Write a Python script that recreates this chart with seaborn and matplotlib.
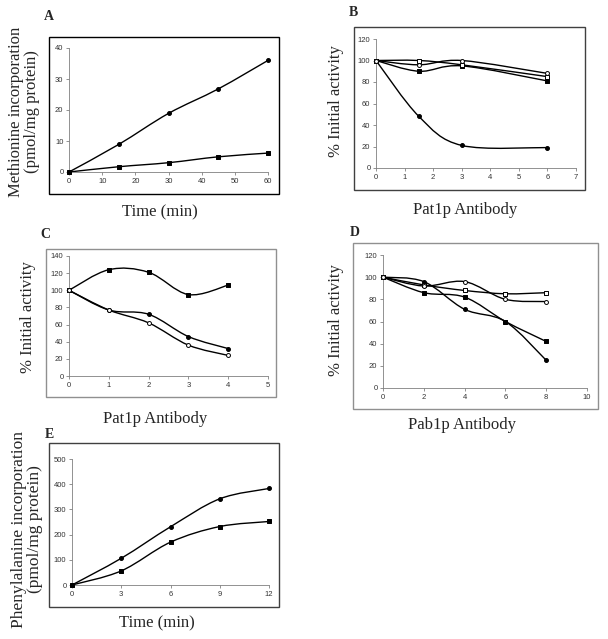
"""
plot.py
 Five-panel figure: amino acid incorporation over time and
 % initial activity after adding Pat1p / Pab1p antibody.
"""

import numpy as np
import matplotlib
matplotlib.use("Agg")
import matplotlib.pyplot as plt
from matplotlib.path import Path
from matplotlib.patches import PathPatch, Rectangle
import seaborn as sns

# Panel A: methionine incorporation (pmol/mg protein)
a_time = [0, 15, 30, 45, 60]
a_circle = [0, 8.9, 18.9, 26.8, 36.0]
a_square = [0, 1.7, 3.0, 4.9, 6.1]

# Panel B: % initial activity vs Pat1p antibody
b_dose = [0, 1.5, 3, 6]
b_filled_circle = [100, 48, 21, 19]
b_filled_square = [100, 90, 95, 81]
b_open_square = [100, 100, 96, 85]
b_open_circle = [100, 96, 100, 88]

# Panel C: % initial activity vs Pat1p antibody
c_dose = [0, 1, 2, 3, 4]
c_filled_square = [100, 124, 121, 95, 106]
c_filled_circle = [100, 77, 72, 46, 32]
c_open_circle = [100, 77, 62, 36, 24]

# Panel D: % initial activity vs Pab1p antibody
d_dose = [0, 2, 4, 6, 8]
d_filled_circle = [100, 96, 71, 60, 25]
d_filled_square = [100, 86, 82, 60, 42]
d_open_square = [100, 93, 88, 85, 86]
d_open_circle = [100, 92, 96, 80, 78]

# Panel E: phenylalanine incorporation (pmol/mg protein)
e_time = [0, 3, 6, 9, 12]
e_circle = [0, 106, 231, 342, 383]
e_square = [0, 56, 170, 232, 252]

W, H = 608, 639
sns.set_style("ticks")
plt.rcParams['font.family'] = ['Liberation Sans', 'DejaVu Sans']

fig = plt.figure(figsize=(W / 100, H / 100), dpi=100)
fig.patch.set_facecolor('white')

SERIF = ['Liberation Serif', 'DejaVu Serif']


def fx(px):
    return px / W


def fy(py):
    return 1 - py / H


def smooth_line(ax, x, y):
    # Excel-style smoothed line: Catmull-Rom segments as cubic Beziers
    pts = np.column_stack([x, y]).astype(float)
    n = len(pts)
    verts = [pts[0]]
    codes = [Path.MOVETO]
    for i in range(n - 1):
        p0 = pts[i - 1] if i > 0 else pts[i]
        p1 = pts[i]
        p2 = pts[i + 1]
        p3 = pts[i + 2] if i + 2 < n else pts[i + 1]
        c1 = p1 + (p2 - p0) / 6
        c2 = p2 - (p3 - p1) / 6
        verts += [c1, c2, p2]
        codes += [Path.CURVE4] * 3
    ax.add_patch(PathPatch(Path(verts, codes), fill=False, lw=1.0,
                           edgecolor='black', clip_on=False, zorder=2))


def markers(ax, x, y, shape, filled):
    sns.scatterplot(x=x, y=y, marker=shape, s=8, ax=ax,
                    color='black' if filled else 'white',
                    edgecolor='black', linewidth=0.7,
                    clip_on=False, zorder=3, legend=False)


def panel(box, frame, frame_color, letter, letter_xy, xticks, yticks,
          xlabel, xlabel_xy, ylabel, ylabel_xy, ylabel_size=12):
    left, top, right, bottom = box
    ax = fig.add_axes([fx(left), fy(bottom), fx(right - left),
                       (bottom - top) / H])
    fl, ft, fr, fb = frame
    fig.add_artist(Rectangle((fx(fl), fy(fb)), fx(fr - fl), (fb - ft) / H,
                             transform=fig.transFigure, fill=False,
                             edgecolor=frame_color, lw=1.0))
    ax.set_xlim(xticks[0], xticks[-1])
    ax.set_ylim(yticks[0], yticks[-1])
    ax.set_xticks(xticks)
    ax.set_yticks(yticks)
    ax.set_facecolor('none')
    for side in ['top', 'right']:
        ax.spines[side].set_visible(False)
    for side in ['left', 'bottom']:
        ax.spines[side].set_color('#808080')
        ax.spines[side].set_linewidth(0.6)
    ax.tick_params(direction='out', length=2, width=0.6, color='#808080',
                   labelsize=5.5, labelcolor='#333333', pad=2)
    ax.set_xlabel('')
    ax.set_ylabel('')
    fig.text(fx(letter_xy[0]), fy(letter_xy[1]), letter, family=SERIF,
             fontsize=10, fontweight='bold', ha='left', va='center')
    fig.text(fx(xlabel_xy[0]), fy(xlabel_xy[1]), xlabel, family=SERIF,
             fontsize=12, ha='center', va='center')
    fig.text(fx(ylabel_xy[0]), fy(ylabel_xy[1]), ylabel, family=SERIF,
             fontsize=ylabel_size, ha='center', va='center', rotation=90,
             linespacing=1.05, multialignment='center')
    return ax


# A
ax = panel((69, 48, 268, 172), (49, 37, 279, 194), 'black', 'A', (44, 16),
           [0, 10, 20, 30, 40, 50, 60], [0, 10, 20, 30, 40],
           'Time (min)', (160, 212),
           'Methionine incorporation\n(pmol/mg protein)', (24, 112))
smooth_line(ax, a_time, a_circle)
smooth_line(ax, a_time, a_square)
markers(ax, a_time, a_circle, 'o', True)
markers(ax, a_time, a_square, 's', True)

# B
ax = panel((376, 39, 576, 168), (354, 27, 585, 190), '#404040', 'B', (349, 12),
           [0, 1, 2, 3, 4, 5, 6, 7], [0, 20, 40, 60, 80, 100, 120],
           'Pat1p Antibody', (465, 210),
           '% Initial activity', (336, 101))
b_series = [(b_filled_circle, 'o', True), (b_filled_square, 's', True),
            (b_open_square, 's', False), (b_open_circle, 'o', False)]
for series, shape, filled in b_series:
    smooth_line(ax, b_dose, series)
for series, shape, filled in b_series:
    markers(ax, b_dose, series, shape, filled)

# C
ax = panel((69, 256, 268, 376), (46, 249, 276, 397), '#909090', 'C', (40, 234),
           [0, 1, 2, 3, 4, 5], [0, 20, 40, 60, 80, 100, 120, 140],
           'Pat1p Antibody', (155, 419),
           '% Initial activity', (28, 317))
c_series = [(c_filled_square, 's', True), (c_filled_circle, 'o', True),
            (c_open_circle, 'o', False)]
for series, shape, filled in c_series:
    smooth_line(ax, c_dose, series)
for series, shape, filled in c_series:
    markers(ax, c_dose, series, shape, filled)

# D
ax = panel((383, 255, 587, 388), (353, 243, 598, 409), '#909090', 'D', (350, 232),
           [0, 2, 4, 6, 8, 10], [0, 20, 40, 60, 80, 100, 120],
           'Pab1p Antibody', (462, 425),
           '% Initial activity', (336, 320))
d_series = [(d_filled_circle, 'o', True), (d_filled_square, 's', True),
            (d_open_square, 's', False), (d_open_circle, 'o', False)]
for series, shape, filled in d_series:
    smooth_line(ax, d_dose, series)
for series, shape, filled in d_series:
    markers(ax, d_dose, series, shape, filled)

# E
ax = panel((72, 459, 269, 585), (49, 443, 279, 607), '#404040', 'E', (45, 435),
           [0, 3, 6, 9, 12], [0, 100, 200, 300, 400, 500],
           'Time (min)', (157, 623),
           'Phenylalanine incorporation\n(pmol/mg protein)', (27, 529),
           ylabel_size=12.5)
smooth_line(ax, e_time, e_circle)
smooth_line(ax, e_time, e_square)
markers(ax, e_time, e_circle, 'o', True)
markers(ax, e_time, e_square, 's', True)

fig.savefig('out.png', dpi=100)
